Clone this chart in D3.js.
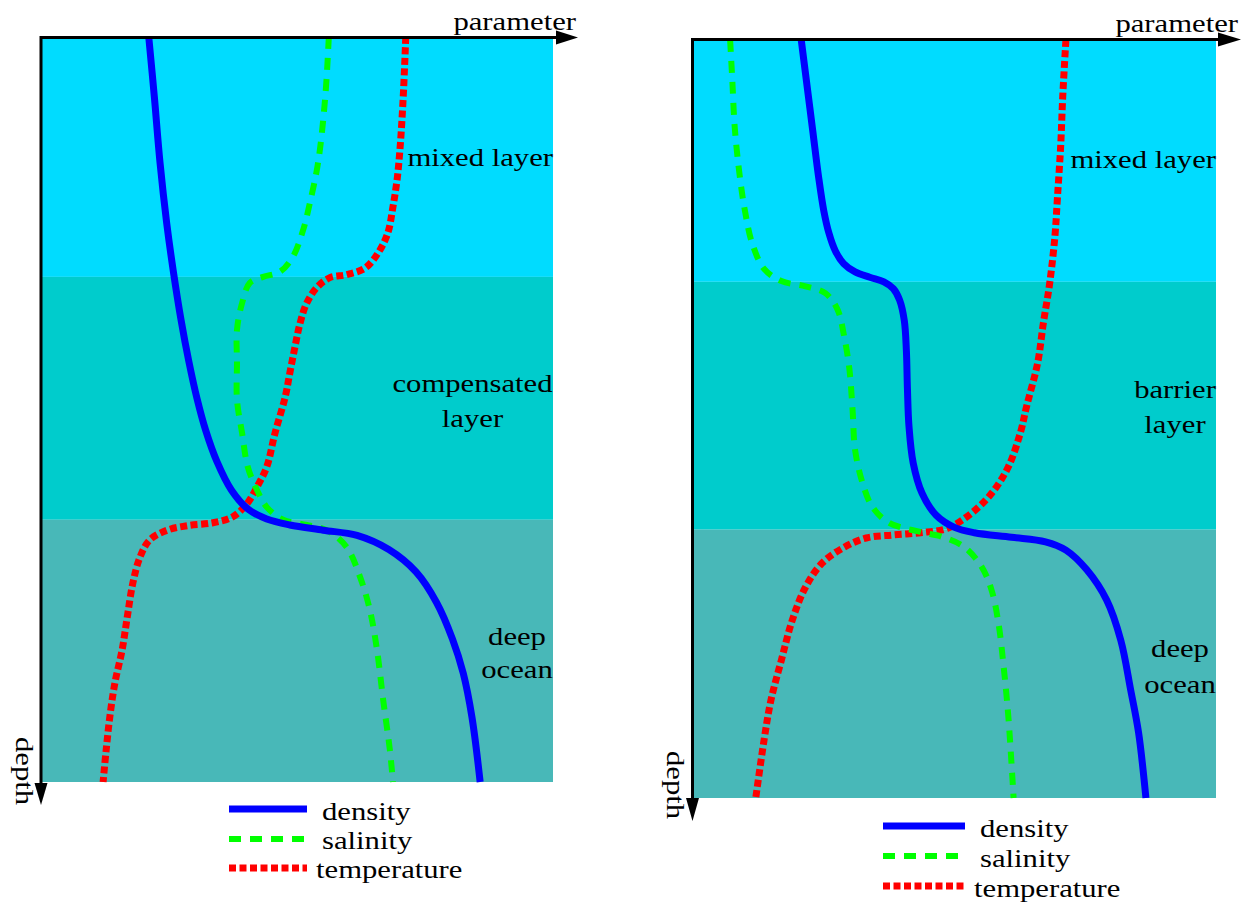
<!DOCTYPE html>
<html>
<head>
<meta charset="utf-8">
<script src="https://cdn.jsdelivr.net/npm/d3@7"></script>
<style>
  html, body { margin: 0; padding: 0; background: #fff; }
  svg { display: block; }
  text { font-family: "Liberation Serif", "Times New Roman", serif; fill: #000; }
</style>
</head>
<body>
<svg id="chart" width="1245" height="902"></svg>
<script>
// Profiles are given as [parameter, depth] pairs; both run 0..100 across each panel.

// Left panel: compensated layer
const densityCompensated = [
  [21.2, 0], [22.3, 8.1], [23.4, 16.9], [24.7, 25.0], [26.0, 31.5], [27.5, 38.0],
  [29.0, 43.5], [30.6, 48.5], [32.3, 52.8], [34.5, 57.0], [37.3, 60.8], [40.6, 63.4],
  [44.2, 64.7], [48.7, 65.5], [55.2, 66.2], [61.8, 66.9], [68.0, 68.8], [73.3, 71.8],
  [77.3, 75.9], [80.4, 80.8], [82.5, 85.4], [84.2, 91.3], [85.8, 100]
];
const salinityCompensated = [
  [56.3, 0], [55.6, 8.1], [54.2, 16.9], [52.6, 22.3], [51.3, 25.9], [49.3, 29.5],
  [46.8, 31.5], [43.5, 32.2], [40.9, 33.0], [39.4, 35.7], [38.4, 39.3], [38.4, 43.8],
  [38.4, 48.7], [39.4, 53.2], [40.5, 57.7], [42.3, 60.8], [44.2, 63.1], [47.4, 64.8],
  [52.0, 65.5], [55.9, 66.2], [59.8, 68.5], [62.4, 72.5], [64.3, 76.9], [65.7, 82.3],
  [66.9, 89.0], [68.2, 95.7], [68.8, 100]
];
const temperatureCompensated = [
  [71.3, 0], [70.8, 8.1], [70.2, 14.8], [69.6, 19.2], [68.8, 22.8], [67.8, 26.3],
  [65.9, 29.0], [63.4, 31.0], [59.8, 31.9], [56.5, 32.3], [54.0, 33.6], [52.0, 35.7],
  [50.7, 38.4], [49.7, 41.6], [48.7, 45.1], [47.8, 48.3], [45.8, 53.2], [44.2, 57.7],
  [42.3, 60.4], [40.4, 62.6], [37.6, 64.4], [33.7, 65.2], [28.7, 65.6], [24.8, 66.2],
  [21.4, 67.5], [19.5, 69.8], [18.1, 73.3], [17.0, 77.9], [16.0, 82.3], [14.6, 86.7],
  [13.6, 91.3], [12.9, 95.7], [12.3, 100]
];

// Right panel: barrier layer
const densityBarrier = [
  [20.7, 0], [21.8, 6.0], [22.9, 12.0], [24.0, 18.0], [25.0, 22.5], [26.0, 25.5],
  [27.2, 27.8], [28.8, 29.5], [31.0, 30.6], [33.8, 31.3], [36.5, 31.9], [38.3, 32.8],
  [39.5, 34.3], [40.4, 37.0], [40.8, 41.0], [41.0, 46.0], [41.3, 51.0], [42.1, 55.8],
  [43.8, 59.8], [46.5, 62.7], [50.0, 64.3], [53.8, 65.0], [60.9, 65.6], [67.4, 66.2],
  [71.3, 67.3], [75.3, 69.9], [79.1, 73.9], [81.8, 79.2], [83.7, 85.8], [85.2, 91.4],
  [86.6, 100]
];
const salinityBarrier = [
  [7.1, 0], [7.5, 5.1], [8.0, 11.7], [9.0, 18.3], [10.0, 22.8], [11.3, 26.8],
  [13.6, 30.2], [16.9, 31.8], [21.5, 32.5], [25.3, 33.4], [27.6, 35.5], [28.9, 39.1],
  [29.9, 43.4], [30.5, 48.7], [31.0, 54.1], [32.4, 58.4], [34.3, 61.6], [37.5, 63.7],
  [43.5, 64.9], [47.9, 65.6], [51.9, 66.9], [55.2, 69.5], [57.1, 72.6], [58.4, 76.9],
  [59.4, 82.7], [60.3, 89.3], [61.3, 100]
];
const temperatureBarrier = [
  [71.3, 0], [70.7, 7.4], [70.3, 14.0], [69.7, 20.6], [69.2, 25.9], [68.2, 32.1],
  [67.0, 37.3], [65.9, 42.6], [63.8, 48.3], [62.6, 51.8], [60.3, 56.3], [57.1, 59.8],
  [53.3, 62.4], [48.7, 64.4], [43.5, 65.0], [38.3, 65.3], [33.1, 65.7], [28.7, 67.0],
  [24.7, 69.0], [21.5, 72.2], [19.0, 76.5], [16.9, 81.8], [14.9, 87.1], [13.6, 92.3],
  [12.0, 100]
];

// Layer boundaries (depth) and names
const layerBoundsCompensated = [0, 32.2, 64.8, 100];
const layerBoundsBarrier = [0, 31.9, 64.6, 100];
const layerColors = ["#00dcff", "#00cccc", "#48b8b8"];
const layerNamesCompensated = [["mixed layer"], ["compensated", "layer"], ["deep", "ocean"]];
const layerNamesBarrier = [["mixed layer"], ["barrier", "layer"], ["deep", "ocean"]];

// Legend entries and axis titles
const seriesNames = ["density", "salinity", "temperature"];
const axisTitles = { x: "parameter", y: "depth" };

const seriesStyle = {
  density:     { color: "#0000ff", width: 7, dash: null },
  salinity:    { color: "#00ff00", width: 6, dash: "12,9" },
  temperature: { color: "#ff0000", width: 7, dash: "7,3.5" }
};

// Serif lettering, slightly widened
const FONT_SIZE = 26;
const WIDEN = 1.18;

const svg = d3.select("#chart");

function label(g, x, y, str, anchor, rotate) {
  return g.append("text")
    .attr("transform", `translate(${x},${y})${rotate ? ` rotate(${rotate})` : ""} scale(${WIDEN},1)`)
    .attr("text-anchor", anchor || "start")
    .attr("font-family", "Liberation Serif, Times New Roman, serif")
    .attr("font-size", FONT_SIZE)
    .text(str);
}

const panels = [
  {
    x0: 40, x1: 553, y0: 37, y1: 782,
    bounds: layerBoundsCompensated, names: layerNamesCompensated,
    series: { density: densityCompensated, salinity: salinityCompensated, temperature: temperatureCompensated },
    labels: [
      { x: 553, anchor: "end", ys: [166] },
      { x: 472.5, anchor: "middle", ys: [392, 427] },
      { x: 517, anchor: "middle", ys: [645, 678] }
    ],
    axisX: { y: 37.5, x0: 40, base: 556, tip: 578 },
    axisY: { x: 41, y0: 36, base: 783, tip: 805 },
    titleX: { x: 576, y: 30 },
    titleY: { x: 16, y: 737 },
    legend: { x0: 229, x1: 307, ys: [809, 839, 868], textX: [322, 322, 316], baselines: [820, 849, 878] }
  },
  {
    x0: 693, x1: 1216, y0: 40, y1: 798,
    bounds: layerBoundsBarrier, names: layerNamesBarrier,
    series: { density: densityBarrier, salinity: salinityBarrier, temperature: temperatureBarrier },
    labels: [
      { x: 1216, anchor: "end", ys: [168] },
      { x: 1175, anchor: "middle", ys: [398, 433] },
      { x: 1180, anchor: "middle", ys: [657, 693] }
    ],
    axisX: { y: 39.5, x0: 692, base: 1218, tip: 1241 },
    axisY: { x: 692.5, y0: 38, base: 798, tip: 821 },
    titleX: { x: 1238, y: 32 },
    titleY: { x: 667, y: 751 },
    legend: { x0: 883, x1: 965, ys: [826, 856, 886], textX: [980, 980, 974], baselines: [837, 867, 897] }
  }
];

panels.forEach(p => {
  const x = d3.scaleLinear().domain([0, 100]).range([p.x0, p.x1]);
  const y = d3.scaleLinear().domain([0, 100]).range([p.y0, p.y1]);
  const g = svg.append("g");

  // Layer bands
  g.selectAll("rect.band")
    .data(d3.range(p.bounds.length - 1))
    .join("rect")
    .attr("class", "band")
    .attr("x", x(0))
    .attr("width", x(100) - x(0))
    .attr("y", i => y(p.bounds[i]))
    .attr("height", i => y(p.bounds[i + 1]) - y(p.bounds[i]))
    .attr("fill", i => layerColors[i]);

  // Layer names
  p.names.forEach((lines, i) => {
    const lab = p.labels[i];
    lines.forEach((t, j) => label(g, lab.x, lab.ys[j], t, lab.anchor));
  });

  // Profiles
  const line = d3.line()
    .x(d => x(d[0]))
    .y(d => y(d[1]))
    .curve(d3.curveCatmullRom.alpha(0.5));

  ["temperature", "salinity", "density"].forEach(name => {
    const s = seriesStyle[name];
    g.append("path")
      .datum(p.series[name])
      .attr("d", line)
      .attr("fill", "none")
      .attr("stroke", s.color)
      .attr("stroke-width", s.width)
      .attr("stroke-dasharray", s.dash)
      .attr("stroke-linecap", "butt");
  });

  // Axes with arrowheads
  const ax = p.axisX, ay = p.axisY;
  g.append("line")
    .attr("x1", ax.x0).attr("x2", ax.base)
    .attr("y1", ax.y).attr("y2", ax.y)
    .attr("stroke", "#000").attr("stroke-width", 3);
  g.append("path")
    .attr("d", `M${ax.base},${ax.y - 7}L${ax.tip},${ax.y}L${ax.base},${ax.y + 7}Z`)
    .attr("fill", "#000");
  g.append("line")
    .attr("x1", ay.x).attr("x2", ay.x)
    .attr("y1", ay.y0).attr("y2", ay.base)
    .attr("stroke", "#000").attr("stroke-width", 3);
  g.append("path")
    .attr("d", `M${ay.x - 6.5},${ay.base}L${ay.x},${ay.tip}L${ay.x + 6.5},${ay.base}Z`)
    .attr("fill", "#000");

  label(g, p.titleX.x, p.titleX.y, axisTitles.x, "end");
  label(g, p.titleY.x, p.titleY.y, axisTitles.y, "start", 90);

  // Legend
  const L = p.legend;
  seriesNames.forEach((name, i) => {
    const s = seriesStyle[name];
    g.append("line")
      .attr("x1", L.x0).attr("x2", L.x1)
      .attr("y1", L.ys[i]).attr("y2", L.ys[i])
      .attr("stroke", s.color)
      .attr("stroke-width", s.width)
      .attr("stroke-dasharray", s.dash);
    label(g, L.textX[i], L.baselines[i], name, "start");
  });
});
</script>
</body>
</html>
